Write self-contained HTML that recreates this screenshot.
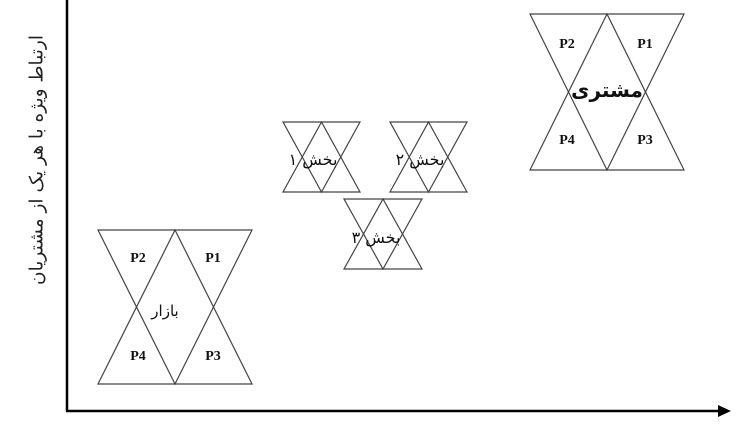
<!DOCTYPE html>
<html><head><meta charset="utf-8"><style>
body{margin:0;background:#fff;width:750px;height:430px;overflow:hidden;position:relative;font-family:"Liberation Serif","DejaVu Sans",serif}
svg{position:absolute;left:0;top:0}
.yl{position:absolute;left:37px;top:160px;transform:translate(-50%,-50%) rotate(-90deg);white-space:nowrap;font-size:18.5px;font-family:"DejaVu Sans",sans-serif;direction:rtl;color:#222}
</style></head><body>
<svg width="750" height="430" viewBox="0 0 750 430">
<g fill="none" stroke="#444" stroke-width="1.2">
<polygon points="98,230 252,230 175,384"/><polygon points="98,384 252,384 175,230"/>
<polygon points="530,14 684,14 607,170"/><polygon points="530,170 684,170 607,14"/>
<polygon points="283,122 360,122 321.5,192"/><polygon points="283,192 360,192 321.5,122"/>
<polygon points="390,122 467,122 428.5,192"/><polygon points="390,192 467,192 428.5,122"/>
<polygon points="344,199 422,199 383,269"/><polygon points="344,269 422,269 383,199"/>
</g>
<line x1="67" y1="0" x2="67" y2="411" stroke="#000" stroke-width="2.5"/>
<line x1="66" y1="411" x2="720" y2="411" stroke="#000" stroke-width="2.5"/>
<polygon points="731,411 718,405 718,417" fill="#000"/>
<g font-family="Liberation Serif,serif" font-weight="bold" font-size="14" text-anchor="middle" fill="#111">
<text x="138" y="262">P2</text><text x="213" y="262">P1</text>
<text x="138" y="360">P4</text><text x="213" y="360">P3</text>
<text x="567" y="48">P2</text><text x="645" y="48">P1</text>
<text x="567" y="144">P4</text><text x="645" y="144">P3</text>
</g>
<g font-family="DejaVu Sans,sans-serif" text-anchor="middle" fill="#111">
<text x="165" y="316" font-size="15">بازار</text>
<text x="607" y="97" font-size="20" font-weight="bold">مشتری</text>
<text x="313" y="165" font-size="16">بخش ۱</text>
<text x="420" y="165" font-size="16">بخش ۲</text>
<text x="376" y="243" font-size="16">بخش ۳</text>
</g>
</svg>
<div class="yl">ارتباط ویژه با هر یک از مشتریان</div>
</body></html>
